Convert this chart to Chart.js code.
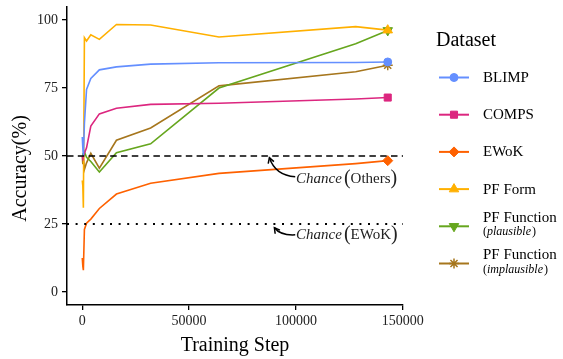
<!DOCTYPE html>
<html><head><meta charset="utf-8">
<script src="https://cdn.jsdelivr.net/npm/chart.js@4/dist/chart.umd.min.js"></script>
<style>html,body{margin:0;padding:0;background:#fff;}#wrap{width:563px;height:359px;}</style>
</head><body><div id="wrap"><canvas id="c" width="563" height="359"></canvas></div>
<script>
// ---- data ----
const steps       = [0, 256, 512, 1000, 2000, 4000, 8000, 16000, 32000, 64000, 128000, 143000];
const blimp       = [57, 53, 50, 62, 74.5, 78.5, 81.7, 82.8, 83.8, 84.3, 84.4, 84.6];
const comps       = [50, 49.5, 50, 51, 53, 61, 65.5, 67.6, 69.0, 69.4, 71.0, 71.5];
const ewok        = [12.5, 9.5, 8, 23, 25.3, 26.8, 30.7, 36, 40, 43.6, 47.2, 48.3];
const pfForm      = [41, 39, 31, 93.5, 92.3, 94.6, 92.9, 98.4, 98.2, 93.8, 97.6, 96.3];
const pfFuncPl    = [50, 51, 50, 51.5, 49.5, 48, 44.1, 51.2, 54.5, 75.0, 91.3, 96.2];
const pfFuncImpl  = [50, 47, 50, 45, 47.5, 51, 45.5, 55.8, 60.3, 75.8, 81, 83.4];
const seriesNames = ['BLIMP', 'COMPS', 'EWoK', 'PF Form', 'PF Function', 'PF Function'];
const seriesSub   = [null, null, null, null, 'plausible', 'implausible'];
const xTicks      = [0, 50000, 100000, 150000];
const yTicks      = [0, 25, 50, 75, 100];
const chanceOthers = 50;
const chanceEwok   = 25;
const xRange = [-7150, 150150];
const yRange = [-4.8, 105];

// ---- styles ----
const FONT = '"Liberation Serif", "Times New Roman", serif';
const colors = ['#648FFF', '#DC267F', '#FE6100', '#FFB000', '#66A61E', '#A6761D'];
const marker = [
  {style: 'circle', r: 4, rot: 0},
  {style: 'rect', r: 5, rot: 0},
  {style: 'rectRot', r: 5, rot: 0},
  {style: 'triangle', r: 5.5, rot: 0},
  {style: 'triangle', r: 5.5, rot: 180},
  {style: 'star', r: 5, rot: 0}
];
const seriesData = [blimp, comps, ewok, pfForm, pfFuncPl, pfFuncImpl];
const last = steps.length - 1;

const datasets = seriesData.map((vals, i) => ({
  label: seriesNames[i] + (seriesSub[i] ? ' (' + seriesSub[i] + ')' : ''),
  data: steps.map((s, j) => ({x: s, y: vals[j]})),
  borderColor: colors[i],
  backgroundColor: colors[i],
  borderWidth: 1.6,
  tension: 0,
  pointStyle: marker[i].style,
  pointRotation: marker[i].rot,
  pointRadius: ctx => ctx.dataIndex === last ? marker[i].r : 0,
  pointBorderWidth: marker[i].style === 'star' ? 1.5 : 1,
  pointHoverRadius: 0,
  order: i + 1
}));
datasets.push({
  label: 'chance-others',
  data: [{x: xRange[0], y: chanceOthers}, {x: xRange[1], y: chanceOthers}],
  borderColor: '#000', borderWidth: 1.5, borderDash: [6.5, 4.3], pointRadius: 0, order: 0
});
datasets.push({
  label: 'chance-ewok',
  data: [{x: xRange[0], y: chanceEwok}, {x: xRange[1], y: chanceEwok}],
  borderColor: '#000', borderWidth: 2, borderDash: [2, 6.6], pointRadius: 0, order: 0
});

// annotation anchors in data coordinates
const notes = [
  {main: 'Others', tx: 100100, ty: 40.0, from: [99700, 42.4], ctrl: [90400, 42.9], to: [87600, 49.4]},
  {main: 'EWoK',   tx: 100100, ty: 19.3, from: [99700, 21.0], ctrl: [92750, 20.7], to: [89950, 23.6]}
];

function drawMarker(ctx, i, x, y) {
  const m = marker[i];
  ctx.save();
  ctx.fillStyle = colors[i]; ctx.strokeStyle = colors[i];
  ctx.lineWidth = m.style === 'star' ? 1.5 : 1;
  if (Chart.helpers && Chart.helpers.drawPoint) {
    Chart.helpers.drawPoint(ctx, {pointStyle: m.style, radius: m.r, rotation: m.rot, borderWidth: ctx.lineWidth}, x, y);
  } else {
    ctx.beginPath(); ctx.arc(x, y, m.r, 0, Math.PI * 2); ctx.fill();
  }
  ctx.restore();
}

function drawParts(ctx, parts, x, y) {
  for (const p of parts) {
    ctx.font = p.f;
    ctx.fillText(p.t, x, y + (p.dy || 0));
    x += ctx.measureText(p.t).width + (p.gap || 0);
  }
}

const extras = {
  id: 'extras',
  afterDraw(chart) {
    const ctx = chart.ctx, xs = chart.scales.x, ys = chart.scales.y, ca = chart.chartArea;
    ctx.save();
    ctx.fillStyle = '#000';
    ctx.textBaseline = 'alphabetic';
    // axis titles
    ctx.font = '20px ' + FONT;
    ctx.textAlign = 'center';
    ctx.fillText('Training Step', (ca.left + ca.right) / 2, 350.5);
    ctx.save();
    ctx.translate(25.5, 168.5);
    ctx.rotate(-Math.PI / 2);
    ctx.fillText('Accuracy(%)', 0, 0);
    ctx.restore();
    ctx.textAlign = 'left';

    // annotations
    for (const n of notes) {
      const x0 = xs.getPixelForValue(n.tx), y0 = ys.getPixelForValue(n.ty);
      ctx.fillStyle = '#222';
      drawParts(ctx, [
        {t: 'Chance', f: 'italic 15px ' + FONT, gap: 2},
        {t: '(', f: '20px ' + FONT, dy: 1},
        {t: n.main, f: '15px ' + FONT},
        {t: ')', f: '20px ' + FONT, dy: 1}
      ], x0, y0);
      const fx = xs.getPixelForValue(n.from[0]), fy = ys.getPixelForValue(n.from[1]);
      const cx = xs.getPixelForValue(n.ctrl[0]), cy = ys.getPixelForValue(n.ctrl[1]);
      const tx = xs.getPixelForValue(n.to[0]), ty = ys.getPixelForValue(n.to[1]);
      ctx.strokeStyle = '#000'; ctx.lineWidth = 1.5;
      ctx.beginPath(); ctx.moveTo(fx, fy); ctx.quadraticCurveTo(cx, cy, tx, ty); ctx.stroke();
      const ang = Math.atan2(ty - cy, tx - cx), L = 6, a = Math.PI / 6;
      ctx.beginPath();
      ctx.moveTo(tx - L * Math.cos(ang - a), ty - L * Math.sin(ang - a));
      ctx.lineTo(tx, ty);
      ctx.lineTo(tx - L * Math.cos(ang + a), ty - L * Math.sin(ang + a));
      ctx.stroke();
    }

    // legend
    ctx.fillStyle = '#000';
    ctx.font = '20px ' + FONT;
    ctx.fillText('Dataset', 436, 46);
    for (let i = 0; i < seriesNames.length; i++) {
      const y = 77.5 + 37.2 * i;
      ctx.strokeStyle = colors[i]; ctx.lineWidth = 2;
      ctx.beginPath(); ctx.moveTo(439, y); ctx.lineTo(469, y); ctx.stroke();
      drawMarker(ctx, i, 454, y);
      ctx.fillStyle = '#000';
      if (!seriesSub[i]) {
        ctx.font = '15px ' + FONT;
        ctx.fillText(seriesNames[i], 483, y + 4.5);
      } else {
        ctx.font = '15px ' + FONT;
        ctx.fillText(seriesNames[i], 483, y - 4.5);
        drawParts(ctx, [
          {t: '(', f: '12px ' + FONT},
          {t: seriesSub[i], f: 'italic 12px ' + FONT, gap: 1},
          {t: ')', f: '12px ' + FONT}
        ], 483, y + 9);
      }
    }
    ctx.restore();
  }
};

new Chart(document.getElementById('c'), {
  type: 'line',
  data: {datasets},
  options: {
    responsive: false, animation: false, devicePixelRatio: 1,
    layout: {padding: {left: 0, right: 160, top: 5, bottom: 0}},
    plugins: {legend: {display: false}, tooltip: {enabled: false}},
    elements: {line: {borderCapStyle: 'butt'}},
    scales: {
      x: {
        type: 'linear', min: xRange[0], max: xRange[1],
        afterBuildTicks: a => { a.ticks = xTicks.map(v => ({value: v})); },
        afterFit: s => { s.height = 54; s.paddingLeft = 0; s.paddingRight = 0; },
        ticks: {color: '#222', font: {family: FONT, size: 14}, padding: 3, maxRotation: 0, callback: v => String(v)},
        grid: {display: true, drawOnChartArea: false, drawTicks: true, tickLength: 5, color: '#000', lineWidth: 1.3},
        border: {display: true, color: '#000', width: 1.5}
      },
      y: {
        type: 'linear', min: yRange[0], max: yRange[1],
        afterBuildTicks: a => { a.ticks = yTicks.map(v => ({value: v})); },
        afterFit: s => { s.width = 67; s.paddingTop = 0; s.paddingBottom = 0; },
        ticks: {color: '#222', font: {family: FONT, size: 14}, padding: 4, callback: v => String(v)},
        grid: {display: true, drawOnChartArea: false, drawTicks: true, tickLength: 5, color: '#000', lineWidth: 1.3},
        border: {display: true, color: '#000', width: 1.5}
      }
    }
  },
  plugins: [extras]
});
</script>
</body></html>
